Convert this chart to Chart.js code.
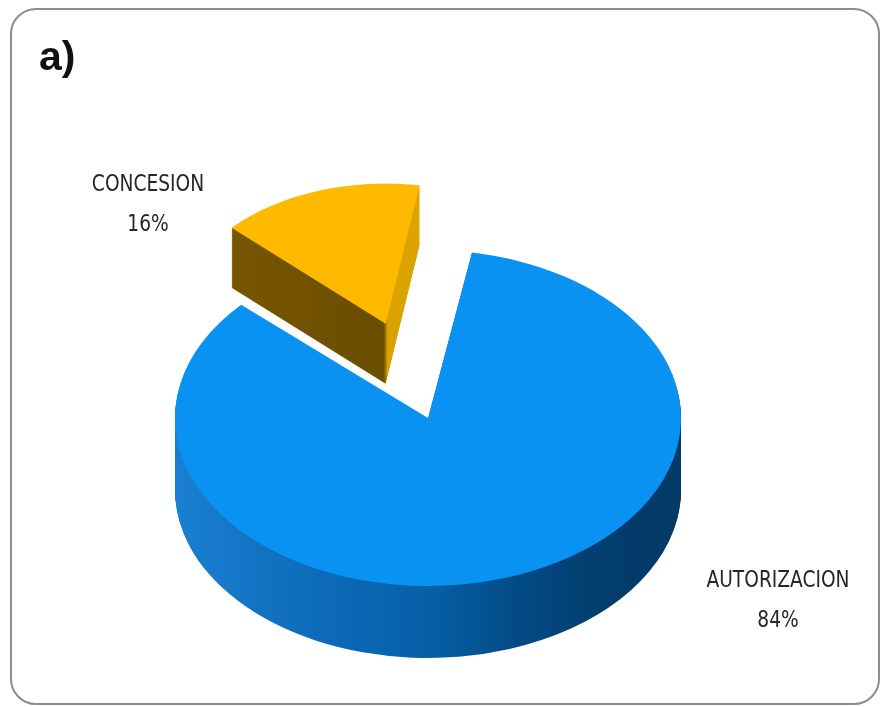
<!DOCTYPE html>
<html>
<head>
<meta charset="utf-8">
<script src="https://cdn.jsdelivr.net/npm/chart.js@4"></script>
<style>
  html, body { margin: 0; background: #fff; }
  #frame {
    position: absolute; left: 10px; top: 8px; width: 870px; height: 697px;
    box-sizing: border-box; border: 2px solid #8d8d8d; border-radius: 26px;
  }
  #wrap { position: absolute; left: 0; top: 0; width: 882px; height: 707px; }
</style>
</head>
<body>
<div id="frame"></div>
<div id="wrap"><canvas id="pie"></canvas></div>
<script>
const labels = ['AUTORIZACION', 'CONCESION'];
const values = [84, 16];

// look of each slice
const topColors = ['#0a92f2', '#ffba00'];
const wallStops = [
  [[0, '#1a7fd2'], [0.3, '#0c6ab8'], [0.5, '#0660a8'], [0.68, '#034a85'], [0.85, '#023d6d'], [1, '#033a66']],
  [[0, '#7a5800'], [0.495, '#6b4d00'], [0.505, '#d9a200'], [1, '#e8ad00']]
];
const explode = [0, 600];

const TILT = 0.664;          // vertical squash of the disc
const DEPTH = 72;            // wall height in px
const CENTER = { x: 428, y: 418 };
const BACK_SHRINK = 0.0011;  // pushed-back slices look smaller

// draws each arc as a tilted slab: stacked wall layers, then the top face
const pie3d = {
  id: 'pie3d',
  beforeDatasetsDraw(chart) {
    const ctx = chart.ctx;
    const arcs = chart.getDatasetMeta(0).data;
    const order = arcs.map((a, i) => i)
      .sort((a, b) => (arcs[b].options.offset || 0) - (arcs[a].options.offset || 0));

    order.forEach(i => {
      const arc = arcs[i];
      const push = (arc.options.offset || 0) / 4;
      const mid = (arc.startAngle + arc.endAngle) / 2;
      const vx = arc.x + Math.cos(mid) * push;
      const vy = arc.y + Math.sin(mid) * push;
      const fix = 1 - Math.sin(Math.min(Math.PI, arc.circumference));
      const drawnR = arc.outerRadius + push * fix;
      const persp = 1 - BACK_SHRINK * push;
      const f = persp * arc.outerRadius / drawnR;
      const depth = Math.round(DEPTH * persp);

      const R = arc.outerRadius;
      const wall = ctx.createLinearGradient(arc.x - R, 0, arc.x + R, 0);
      wallStops[i].forEach(([p, c]) => wall.addColorStop(p, c));

      const paint = (dy, fill) => {
        ctx.save();
        ctx.translate(CENTER.x - arc.x + (push ? 6 : 0), CENTER.y + dy);
        ctx.scale(1, TILT);
        ctx.translate(0, -arc.y);
        ctx.translate(vx, vy);
        ctx.scale(f, f);
        ctx.translate(-vx, -vy);
        const el = Object.create(arc);
        el.options = Object.assign({}, arc.options, { backgroundColor: fill });
        arc.draw.call(el, ctx);
        ctx.restore();
      };

      for (let d = depth; d > 0; d--) paint(d, wall);
      paint(0, topColors[i]);
    });
    return false;
  }
};

// category name and share next to each slice
const sliceLabels = {
  id: 'sliceLabels',
  afterDraw(chart, args, opts) {
    const ctx = chart.ctx;
    const data = chart.data.datasets[0].data;
    const total = data.reduce((a, b) => a + b, 0);
    ctx.save();
    ctx.font = opts.font;
    ctx.fillStyle = opts.color;
    ctx.textAlign = 'center';
    ctx.textBaseline = 'middle';
    chart.data.labels.forEach((name, i) => {
      const p = opts.anchors[i];
      ctx.save();
      ctx.translate(p.x, p.y);
      ctx.scale(opts.squeeze, 1);
      ctx.fillText(name, 0, 0);
      ctx.fillText(Math.round(data[i] / total * 100) + '%', 0, opts.lineGap);
      ctx.restore();
    });
    ctx.restore();
  }
};

new Chart(document.getElementById('pie'), {
  type: 'pie',
  data: {
    labels: labels,
    datasets: [{
      data: values,
      backgroundColor: topColors,
      borderWidth: 0,
      offset: explode,
      rotation: 10,
      radius: 253,
      clip: false
    }]
  },
  options: {
    responsive: true,
    maintainAspectRatio: false,
    animation: false,
    events: [],
    layout: { padding: { left: 39, top: 34 } },
    plugins: {
      legend: { display: false },
      tooltip: { enabled: false },
      title: {
        display: true,
        text: 'a)',
        align: 'start',
        color: '#111',
        padding: 0,
        font: { family: 'Liberation Sans', size: 41, weight: 'bold' }
      },
      sliceLabels: {
        anchors: [{ x: 778, y: 581 }, { x: 148, y: 185 }],
        lineGap: 40,
        squeeze: 0.9,
        font: "23px 'Liberation Sans Narrow', 'DejaVu Sans Condensed', sans-serif",
        color: '#262626'
      }
    }
  },
  plugins: [pie3d, sliceLabels]
});
</script>
</body>
</html>
